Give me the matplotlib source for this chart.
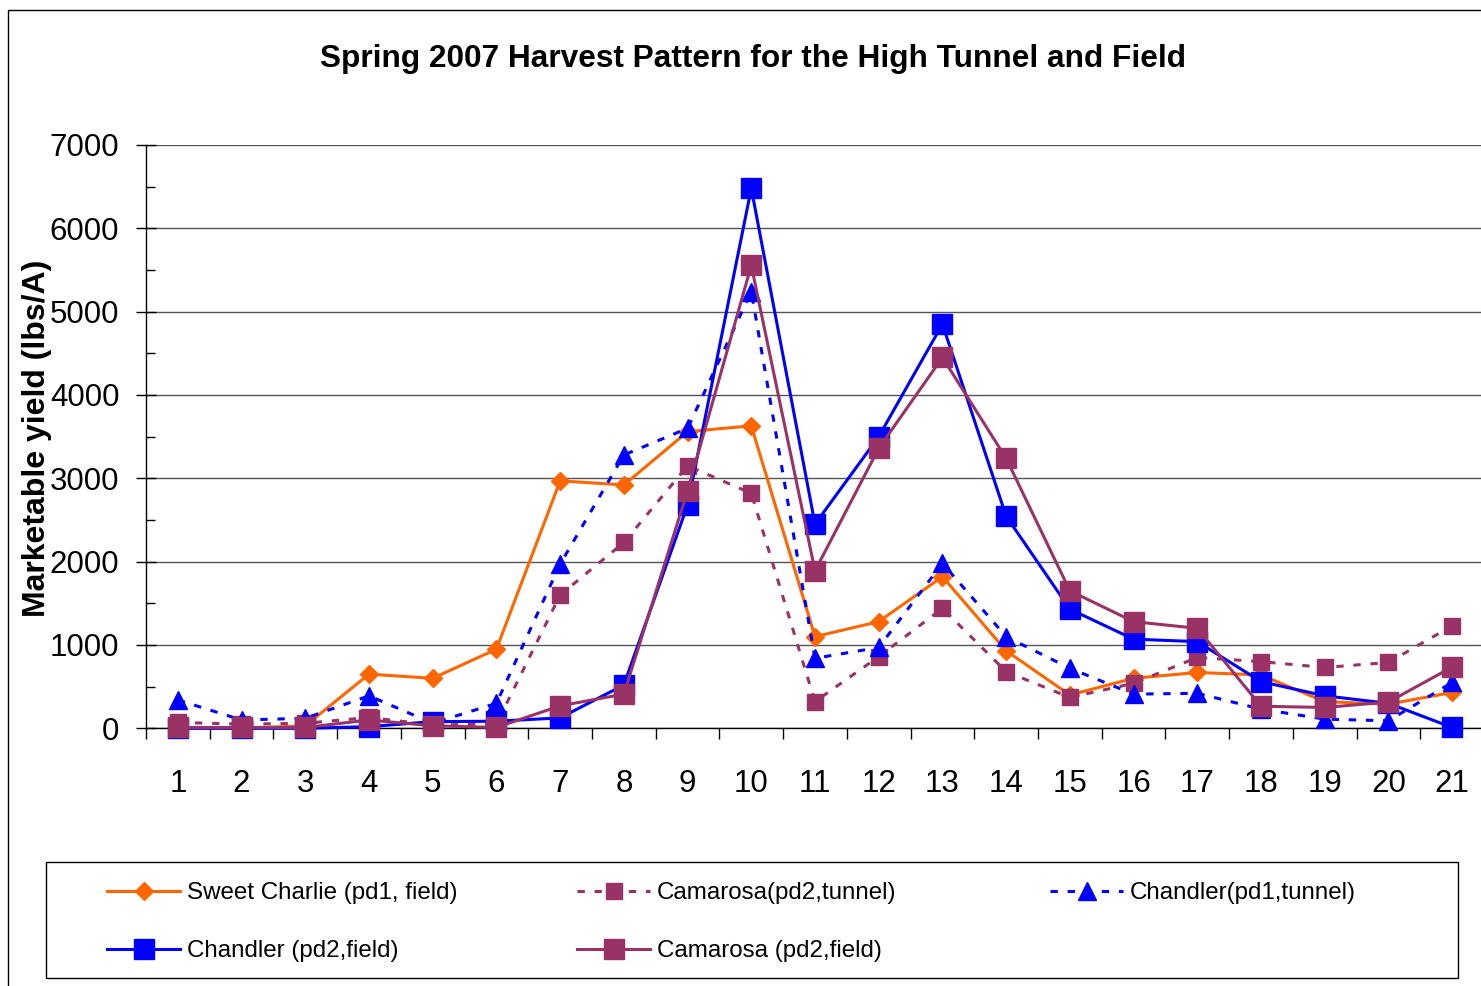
import matplotlib
matplotlib.use("Agg")
import matplotlib.pyplot as plt
from matplotlib.patches import Rectangle
from matplotlib.ticker import MultipleLocator, FixedLocator, NullFormatter

plt.rcParams['font.family'] = ['Liberation Sans', 'DejaVu Sans']

harvest = list(range(1, 22))
sweet_charlie_field = [0, 0, 30, 650, 600, 950, 2970, 2920, 3560, 3630, 1100, 1280, 1820, 930, 400, 600, 670, 640, 320, 290, 430]
camarosa_tunnel = [70, 50, 60, 130, 40, 50, 1600, 2230, 3150, 2820, 320, 860, 1440, 680, 370, 540, 850, 800, 730, 790, 1230]
chandler_tunnel = [340, 100, 120, 390, 60, 300, 1970, 3280, 3600, 5240, 840, 970, 1980, 1100, 720, 410, 420, 230, 110, 90, 550]
chandler_field = [0, 0, 0, 20, 80, 85, 125, 520, 2680, 6480, 2450, 3500, 4850, 2545, 1430, 1070, 1040, 560, 390, 300, 10]
camarosa_field = [10, 10, 10, 100, 30, 10, 270, 410, 2850, 5555, 1890, 3360, 4450, 3240, 1650, 1280, 1200, 265, 250, 315, 735]

labels = ["Sweet Charlie (pd1, field)", "Camarosa(pd2,tunnel)", "Chandler(pd1,tunnel)",
          "Chandler (pd2,field)", "Camarosa (pd2,field)"]

ORANGE = '#FF6600'
PURPLE = '#993366'
BLUE = '#0000FF'

W, H = 1481, 986
fig = plt.figure(figsize=(W / 100, H / 100), dpi=100)
fig.patch.set_facecolor('white')

def fx(px):
    return px / W

def fy(py):
    return 1 - py / H

ax = fig.add_axes([fx(146), fy(728.3), fx(1484) - fx(146), fy(145) - fy(728.3)])
ax.set_xlim(0.5, 21.5)
ax.set_ylim(0, 7000)

dash = (0, (2.4, 3.2))
l_sc, = ax.plot(harvest, sweet_charlie_field, color=ORANGE, lw=2.2, marker='D', ms=9.5,
                mec=ORANGE, mfc=ORANGE, zorder=3, clip_on=False)
l_ct, = ax.plot(harvest, camarosa_tunnel, color=PURPLE, lw=2.2, ls=dash, marker='s', ms=11.5,
                mec=PURPLE, mfc=PURPLE, zorder=4, clip_on=False)
l_cht, = ax.plot(harvest, chandler_tunnel, color=BLUE, lw=2.2, ls=dash, marker='^', ms=12.5,
                 mec=BLUE, mfc=BLUE, zorder=5, clip_on=False)
l_chf, = ax.plot(harvest, chandler_field, color=BLUE, lw=2.2, marker='s', ms=14.5,
                 mec=BLUE, mfc=BLUE, zorder=6, clip_on=False)
l_cf, = ax.plot(harvest, camarosa_field, color=PURPLE, lw=2.2, marker='s', ms=14.5,
                mec=PURPLE, mfc=PURPLE, zorder=7, clip_on=False)

# grid
ax.yaxis.set_major_locator(MultipleLocator(1000))
ax.yaxis.set_minor_locator(MultipleLocator(500))
ax.grid(axis='y', which='major', color='#555555', lw=1.0, zorder=1)
ax.set_axisbelow(True)

# x ticks: labels at integers, tick marks at boundaries
ax.xaxis.set_major_locator(FixedLocator(harvest))
ax.xaxis.set_minor_locator(FixedLocator([h + 0.5 for h in [0] + harvest]))
ax.set_xticklabels([str(h) for h in harvest])
ax.xaxis.set_minor_formatter(NullFormatter())
ax.tick_params(axis='x', which='major', length=0, pad=29.5, labelsize=22.5)
ax.tick_params(axis='x', which='minor', direction='out', length=8, width=1.0, color='black')
ax.tick_params(axis='y', which='major', direction='inout', length=14.5, width=1.0,
               pad=12, labelsize=22.5, color='black')
ax.tick_params(axis='y', which='minor', direction='in', length=6.5, width=1.0, color='black')

for s in ['top', 'right']:
    ax.spines[s].set_visible(False)
for s in ['left', 'bottom']:
    ax.spines[s].set_color('black')
    ax.spines[s].set_linewidth(1.0)

# title and y label
fig.text(fx(753), fy(59), "Spring 2007 Harvest Pattern for the High Tunnel and Field",
         ha='center', va='center', fontsize=22.8, fontweight='bold')
fig.text(fx(37), fy(438), "Marketable yield (lbs/A)", rotation=90,
         ha='center', va='center', fontsize=23, fontweight='bold')

# outer chart border
fig.patches.append(Rectangle((fx(7.5), -0.2), 1.5, fy(10) + 0.2, transform=fig.transFigure,
                             fill=False, ec='black', lw=1.0))
# legend frame
fig.patches.append(Rectangle((fx(46), fy(978)), fx(1458) - fx(46), fy(862) - fy(978),
                             transform=fig.transFigure, fill=False, ec='black', lw=1.0))

lfs = 17.4
lpx = lfs * 100 / 72
entries = [
    (l_sc, labels[0], 107, 893.5),
    (l_ct, labels[1], 577, 893.5),
    (l_cht, labels[2], 1050, 893.5),
    (l_chf, labels[3], 107, 951.5),
    (l_cf, labels[4], 577, 951.5),
]
for h, lab, x, y in entries:
    fig.legend([h], [lab], loc='center left', bbox_to_anchor=(fx(x), fy(y)),
               bbox_transform=fig.transFigure, frameon=False, borderpad=0,
               borderaxespad=0, handlelength=73 / lpx, handletextpad=7 / lpx,
               fontsize=lfs, numpoints=1)

fig.savefig('out.png', dpi=100, facecolor='white')
